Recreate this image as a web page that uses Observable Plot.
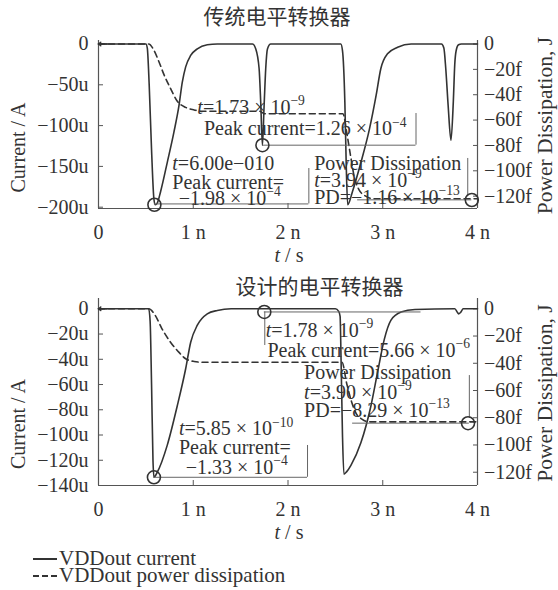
<!DOCTYPE html>
<html><head><meta charset="utf-8">
<script src="https://cdn.jsdelivr.net/npm/d3@7"></script>
<script src="https://cdn.jsdelivr.net/npm/@observablehq/plot@0.6"></script>
<style>
html,body{margin:0;padding:0;background:#fff}
body{width:558px;height:590px;position:relative;overflow:hidden;font-family:"Liberation Serif","Times New Roman",serif;color:#333}
#top{position:absolute;left:0;top:0}
#bot{position:absolute;left:0;top:268px}
#legend{position:absolute;left:33px;top:549.6px;font-size:21px;line-height:17px;white-space:nowrap}
.sw{display:inline-block;width:24px;height:0;vertical-align:middle;margin-right:2px;position:relative;top:-1px}
.solid{border-top:2px solid #333}
.dash{border-top:2px dashed #333}
</style>
</head><body>
<div id="top"></div>
<div id="bot"></div>
<div id="legend"><div><span class="sw solid"></span>VDDout current</div><div><span class="sw dash"></span>VDDout power dissipation</div></div>
<script>
// ---------- data (time in ns, current in µA, power dissipation in fJ) ----------
const titles = ["传统电平转换器", "设计的电平转换器"];
const xTicks = [0, 1, 2, 3, 4];
const topCurTicks = [0, -50, -100, -150, -200];
const botCurTicks = [0, -20, -40, -60, -80, -100, -120, -140];
const pdTicks = [0, -20, -40, -60, -80, -100, -120];

const topT = [0, 0.50, 0.515, 0.535, 0.56, 0.585, 0.60, 0.62, 0.655, 0.726, 0.796, 0.85, 0.884, 0.92, 0.973, 1.043, 1.148, 1.254, 1.625, 1.66, 1.695, 1.712, 1.73, 1.748, 1.765, 1.783, 1.818, 2.557, 2.575, 2.60, 2.615, 2.63, 2.68, 2.77, 2.86, 2.93, 2.98, 3.05, 3.157, 3.30, 3.62, 3.645, 3.665, 3.69, 3.72, 3.745, 3.76, 3.775, 3.80, 3.83, 4.0];
const topI = [0, 0, -5, -50, -130, -190, -197, -195, -181, -145, -108, -75, -47, -28, -14, -6, -1, 0, 0, -6, -30, -71, -124, -75, -30, -6, 0, 0, -8, -71, -150, -197, -181, -145, -104, -63, -30, -12, -4, 0, 0, -5, -30, -75, -118, -70, -25, -8, -1, 0, 0];
const topPT = [0, 0.53, 0.585, 0.638, 0.69, 0.76, 0.83, 0.92, 1.01, 1.08, 1.70, 1.75, 2.58, 2.62, 2.66, 2.70, 2.75, 2.82, 2.90, 4.0];
const topPD = [0, 0, -5, -14, -24, -35, -45, -50, -52, -53, -53, -55, -55, -70, -88, -105, -115, -120, -122, -122];

const botT = [0, 0.53, 0.545, 0.56, 0.575, 0.585, 0.62, 0.726, 0.831, 0.92, 0.973, 1.043, 1.148, 1.254, 1.40, 2.50, 2.535, 2.55, 2.56, 2.575, 2.59, 2.62, 2.664, 2.77, 2.875, 2.946, 3.017, 3.087, 3.193, 3.34, 3.76, 3.79, 3.80, 3.82, 3.85, 4.0];
const botI = [0, 0, -10, -60, -120, -133.5, -129.5, -108, -77, -47.5, -26.5, -13, -4, -1.3, 0, 0, -2, -6, -40, -100, -131, -129, -124, -106, -77, -50, -24, -9, -2.6, -0.5, 0, -3, -4, -3, 0, 0];
const botPT = [0, 0.53, 0.60, 0.67, 0.76, 0.85, 0.92, 1.01, 1.10, 2.57, 2.62, 2.67, 2.72, 2.78, 2.85, 4.0];
const botPD = [0, 0, -5, -14.7, -24.5, -32, -36.7, -38.7, -39.3, -39.3, -55, -68, -77, -81, -83, -83];

// data tips: [t, current]
const topTips = [[0.59, -197], [1.73, -124]];
const topPdTip = [3.94, -123];
const botTips = [[0.585, -133.5], [1.75, -2.5]];
const botPdTip = [3.90, -84];

// annotation texts: [text, t, current]
const topNotes = [
  ["{t}=6.00e−010", 0.779, -146.4], ["Peak current=", 0.779, -169.7], ["−1.98 × 10^{−4}", 0.846, -189.3],
  ["{t}=1.73 × 10^{−9}", 1.043, -77.5], ["Peak current=1.26 × 10^{−4}", 1.113, -103.9],
  ["Power Dissipation", 2.276, -146.8], ["{t}=3.94 × 10^{−9}", 2.276, -167.3], ["PD=−1.16 × 10^{−13}", 2.276, -187.7]
];
const botNotes = [
  ["{t}=5.85 × 10^{−10}", 0.849, -95.1], ["Peak current=", 0.849, -109.7], ["−1.33 × 10^{−4}", 0.92, -125.5],
  ["{t}=1.78 × 10^{−9}", 1.765, -17.2], ["Peak current=5.66 × 10^{−6}", 1.783, -33],
  ["Power Dissipation", 2.17, -50.2], ["{t}=3.90 × 10^{−9}", 2.17, -66.1], ["PD=−8.29 × 10^{−13}", 2.17, -80.6]
];
// tip box edges: horizontal [y, t1, t2], vertical [t, y1, y2]
const topHBox = [[-196, 0.59, 2.22], [-124, 1.73, 3.351], [-191, 2.735, 3.94]];
const topVBox = [[2.22, -152.6, -196], [3.351, -85.2, -124], [3.897, -140.3, -185.7]];
const botHBox = [[-133.5, 0.585, 2.206], [-2.5, 1.75, 3.404], [-90.6, 2.682, 3.914]];
const botVBox = [[2.206, -108.3, -133.5], [1.755, -2.5, -29.1], [3.914, -52.9, -86.9]];

// ---------- drawing ----------
const FONT = '"Liberation Serif","Times New Roman",serif';
const INK = "#333";
const AX = "#555";
const fmtU = d => d === 0 ? "0" : "−" + Math.abs(d) + "u";
const fmtX = d => d === 0 ? "0" : d + " n";
const none = () => "";

function rich(svg) {
  d3.select(svg).selectAll("text").each(function() {
    if (this.querySelector("tspan")) return;
    const s = this.textContent;
    if (!/\^\{|\{t\}/.test(s)) return;
    const el = d3.select(this);
    el.text(null);
    const parts = s.split(/(\{t\}|\^\{[^}]*\})/).filter(p => p);
    for (const p of parts) {
      if (p === "{t}") el.append("tspan").attr("font-style", "italic").text("t");
      else if (p.startsWith("^{")) el.append("tspan").attr("font-size", "0.68em").attr("dy", "-0.62em").text(p.slice(2, -1));
      else el.append("tspan").text(p);
    }
  });
}

function panel(c) {
  const k = c.k;
  const cur = c.t.map((t, i) => ({t, v: c.i[i]}));
  const pd = c.pt.map((t, i) => ({t, v: c.pf[i] * k}));
  const tips = c.tips.map(([t, v]) => ({t, v})).concat([{t: c.pdTip[0], v: c.pdTip[1] * k}]);
  const notes = c.notes.map(([s, t, v]) => ({s, t, v}));
  const hb = c.hb.map(([v, t1, t2]) => ({v, t1, t2}));
  const vb = c.vb.map(([t, v1, v2]) => ({t, v1, v2}));
  const pdTickPos = pdTicks.map(f => f * k);
  const svg = Plot.plot({
    width: 558, height: c.height,
    marginLeft: 98, marginRight: 81, marginTop: c.mt, marginBottom: c.mb,
    style: {fontFamily: FONT, color: INK, background: "white", fontSize: "20px"},
    x: {domain: [0, 4]},
    y: {domain: c.yDomain},
    marks: [
      Plot.ruleX([0, 4], {stroke: AX, strokeWidth: 1.2}),
      Plot.ruleY([c.yDomain[0]], {stroke: AX, strokeWidth: 1.2}),
      // inward tick marks
      Plot.axisY({anchor: "left", ticks: c.curTicks, tickFormat: none, tickSize: 5, dx: 5, label: null, stroke: AX}),
      Plot.axisY({anchor: "right", ticks: pdTickPos, tickFormat: none, tickSize: 5, dx: -5, label: null, stroke: AX}),
      Plot.axisX({anchor: "bottom", ticks: xTicks, tickFormat: none, tickSize: 5, dy: -5, label: null, stroke: AX}),
      // tick labels
      Plot.axisY({anchor: "left", ticks: c.curTicks, tickFormat: fmtU, tickSize: 0, tickPadding: 10, label: null, fontSize: 20}),
      Plot.axisY({anchor: "right", ticks: pdTickPos, tickFormat: d => { const f = Math.round(d / k); return f === 0 ? "0" : "−" + (-f) + "f"; }, tickSize: 0, tickPadding: 6.5, label: null, fontSize: 20}),
      Plot.axisX({anchor: "bottom", ticks: xTicks, tickFormat: fmtX, tickSize: 0, tickPadding: 16, label: null, fontSize: 20}),
      Plot.line(pd, {x: "t", y: "v", stroke: INK, strokeWidth: 1.6, strokeDasharray: "6,4", curve: "monotone-x"}),
      Plot.line(cur, {x: "t", y: "v", stroke: INK, strokeWidth: 1.6, curve: "monotone-x"}),
      Plot.arrow([{a: 0.09, b: 0, y: 0}], {x1: "a", x2: "b", y1: "y", y2: "y", stroke: INK, strokeWidth: 1.5, headLength: 10, headAngle: 75}),
      Plot.ruleY(hb, {y: "v", x1: "t1", x2: "t2", stroke: "#666", strokeWidth: 1}),
      Plot.ruleX(vb, {x: "t", y1: "v1", y2: "v2", stroke: "#666", strokeWidth: 1}),
      Plot.dot(tips, {x: "t", y: "v", r: 6.5, stroke: INK, strokeWidth: 1.6, fill: "none"}),
      Plot.text(notes, {x: "t", y: "v", text: "s", textAnchor: "start", lineAnchor: "middle", fontSize: 20, fill: INK}),
      Plot.text([c.title], {frameAnchor: "top-left", dx: c.titleX - 98, dy: c.titleDy, textAnchor: "middle", lineAnchor: "middle", fontSize: 21, fontFamily: '"Noto Sans CJK SC", sans-serif', fill: INK}),
      Plot.text(["Current / A"], {frameAnchor: "left", dx: -79.7, dy: c.curLabelDy, rotate: -90, textAnchor: "middle", lineAnchor: "middle", fontSize: 20, fill: INK}),
      Plot.text(["Power Dissipation, J"], {frameAnchor: "right", dx: 67.5, dy: 1, rotate: -90, textAnchor: "middle", lineAnchor: "middle", fontSize: 21.5, fill: INK}),
      Plot.text(["{t} / s"], {frameAnchor: "bottom", dx: 1, dy: 47, textAnchor: "middle", lineAnchor: "middle", fontSize: 20, fill: INK})
    ]
  });
  rich(svg);
  return svg;
}

document.getElementById("top").append(panel({
  height: 268, mt: 40, mb: 60, yDomain: [-201.6, 4.29], k: 1.554,
  t: topT, i: topI, pt: topPT, pf: topPD, curTicks: topCurTicks,
  tips: topTips, pdTip: topPdTip, notes: topNotes, hb: topHBox, vb: topVBox,
  title: titles[0], titleX: 276.5, titleDy: -23, curLabelDy: 23
}));
document.getElementById("bot").append(panel({
  height: 278, mt: 30, mb: 61, yDomain: [-140, 8.16], k: 1.079,
  t: botT, i: botI, pt: botPT, pf: botPD, curTicks: botCurTicks,
  tips: botTips, pdTip: botPdTip, notes: botNotes, hb: botHBox, vb: botVBox,
  title: titles[1], titleX: 319, titleDy: -11, curLabelDy: 32
}));
</script>
</body></html>
